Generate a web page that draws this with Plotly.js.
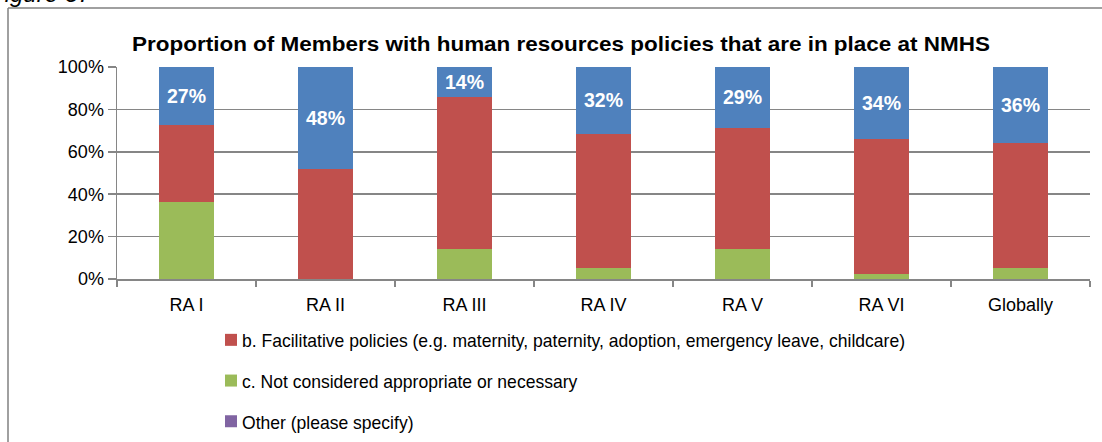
<!DOCTYPE html>
<html>
<head>
<meta charset="utf-8">
<script src="https://cdn.plot.ly/plotly-3.0.1.min.js"></script>
<style>
html,body{margin:0;padding:0;background:#fff;}
#chart{width:1102px;height:442px;}
</style>
</head>
<body>
<div id="chart"></div>
<script>
const categories = ["RA I", "RA II", "RA III", "RA IV", "RA V", "RA VI", "Globally"];
const formalPolicies = [27.3, 48.0, 14.3, 31.6, 28.6, 34.1, 35.7];
const facilitativePolicies = [36.4, 52.0, 71.4, 63.2, 57.1, 63.4, 59.1];
const notConsidered = [36.4, 0.0, 14.3, 5.3, 14.3, 2.5, 5.2];
const otherSpecify = [0, 0, 0, 0, 0, 0, 0];

const nameFormal = "a. Formal policies";
const nameFacilitative = "b. Facilitative policies (e.g. maternity, paternity, adoption, emergency leave, childcare)";
const nameNotConsidered = "c. Not considered appropriate or necessary";
const nameOther = "Other (please specify)";
const chartTitle = "Proportion of Members with human resources policies that are in place at NMHS";
const figureLabel = "Figure 37";

const BLUE = "#4F81BD", RED = "#C0504D", GREEN = "#9BBB59", PURPLE = "#8064A2";
const FONT = "Liberation Sans, Arial, sans-serif";

const traces = [
  {type: "bar", x: categories, y: notConsidered, name: nameNotConsidered,
   marker: {color: GREEN}, legendgroup: "c", legendrank: 2},
  {type: "bar", x: categories, y: facilitativePolicies, name: nameFacilitative,
   marker: {color: RED}, legendgroup: "b", legendrank: 1},
  {type: "bar", x: categories, y: otherSpecify, name: nameOther,
   marker: {color: PURPLE}, legendgroup: "o", legendrank: 3},
  {type: "bar", x: categories, y: formalPolicies, name: nameFormal,
   marker: {color: BLUE}, showlegend: false,
   texttemplate: "%{y:.0f}%", textposition: "inside", insidetextanchor: "middle",
   textangle: 0, constraintext: "none",
   textfont: {family: FONT, size: 19.5, color: "#ffffff", weight: "bold"}}
];

// plot area in pixels: x 117..1090, y 67..279
const L = 117, R = 1090, T = 67, B = 279;
const px2x = p => (p - L) / (R - L);
const py2y = p => (B - p) / (B - T);

const layout = {
  width: 1102, height: 442,
  margin: {l: L, r: 1102 - R, t: T, b: 442 - B, pad: 0, autoexpand: false},
  paper_bgcolor: "#ffffff", plot_bgcolor: "#ffffff",
  barmode: "stack", bargap: 0.6,
  font: {family: FONT, size: 18, color: "#000000"},
  title: {
    text: "<b>" + chartTitle + "</b>",
    font: {family: FONT, size: 21, color: "#000000"},
    x: 561 / 1102, xref: "container", xanchor: "center",
    y: 1 - 44 / 442, yref: "container", yanchor: "middle", automargin: false
  },
  xaxis: {
    type: "category", showgrid: false, zeroline: false, automargin: false,
    showline: true, linecolor: "#868686", linewidth: 1.5, tickangle: 0,
    ticks: "outside", tickson: "boundaries", ticklen: 6, tickcolor: "#868686", tickwidth: 1.5,
    ticklabelstandoff: 9,
    tickfont: {size: 18}, fixedrange: true
  },
  yaxis: {
    range: [0, 100], dtick: 20, ticksuffix: "%", automargin: false,
    showgrid: true, gridcolor: "#868686", gridwidth: 1.5,
    zeroline: false, showline: true, linecolor: "#868686", linewidth: 1.5,
    ticks: "outside", ticklen: 8, tickcolor: "#868686", tickwidth: 1.5,
    tickfont: {size: 18}, fixedrange: true
  },
  showlegend: true,
  legend: {
    orientation: "v", traceorder: "grouped", tracegroupgap: 13,
    xref: "container", yref: "container",
    x: 211 / 1102, y: 1 - 321 / 442, xanchor: "left", yanchor: "top",
    font: {family: FONT, size: 19, color: "#000000"},
    bgcolor: "rgba(0,0,0,0)", itemwidth: 30
  },
  shapes: [
    {type: "line", xref: "paper", yref: "paper", x0: px2x(8), x1: px2x(8), y0: py2y(8), y1: py2y(445),
     line: {color: "#808080", width: 1.5}},
    {type: "line", xref: "paper", yref: "paper", x0: px2x(8), x1: px2x(1105), y0: py2y(8), y1: py2y(8),
     line: {color: "#808080", width: 1.5}}
  ],
  annotations: [
    {text: figureLabel, xref: "paper", yref: "paper", x: px2x(95), y: py2y(8.5),
     xanchor: "right", yanchor: "bottom", showarrow: false,
     font: {family: FONT, size: 24, style: "italic", color: "#000000"}}
  ]
};

Plotly.newPlot("chart", traces, layout, {displayModeBar: false, staticPlot: true}).then(gd => {
  // legend text in the reference is a condensed face: match its width
  const texts = Array.from(gd.querySelectorAll(".legend text.legendtext"));
  let factor = 1;
  texts.forEach(t => {
    if (t.textContent.indexOf("b. Facilitative") === 0) factor = 663 / t.getComputedTextLength();
  });
  texts.forEach(t => {
    const w = t.getComputedTextLength();
    t.setAttribute("textLength", (w * factor).toFixed(1));
    t.setAttribute("lengthAdjust", "spacingAndGlyphs");
    t.setAttribute("x", "31");
  });
  // title width as in the reference
  const tt = gd.querySelector(".gtitle");
  if (tt) {
    tt.setAttribute("textLength", "858");
    tt.setAttribute("lengthAdjust", "spacingAndGlyphs");
  }
});
</script>
</body>
</html>
